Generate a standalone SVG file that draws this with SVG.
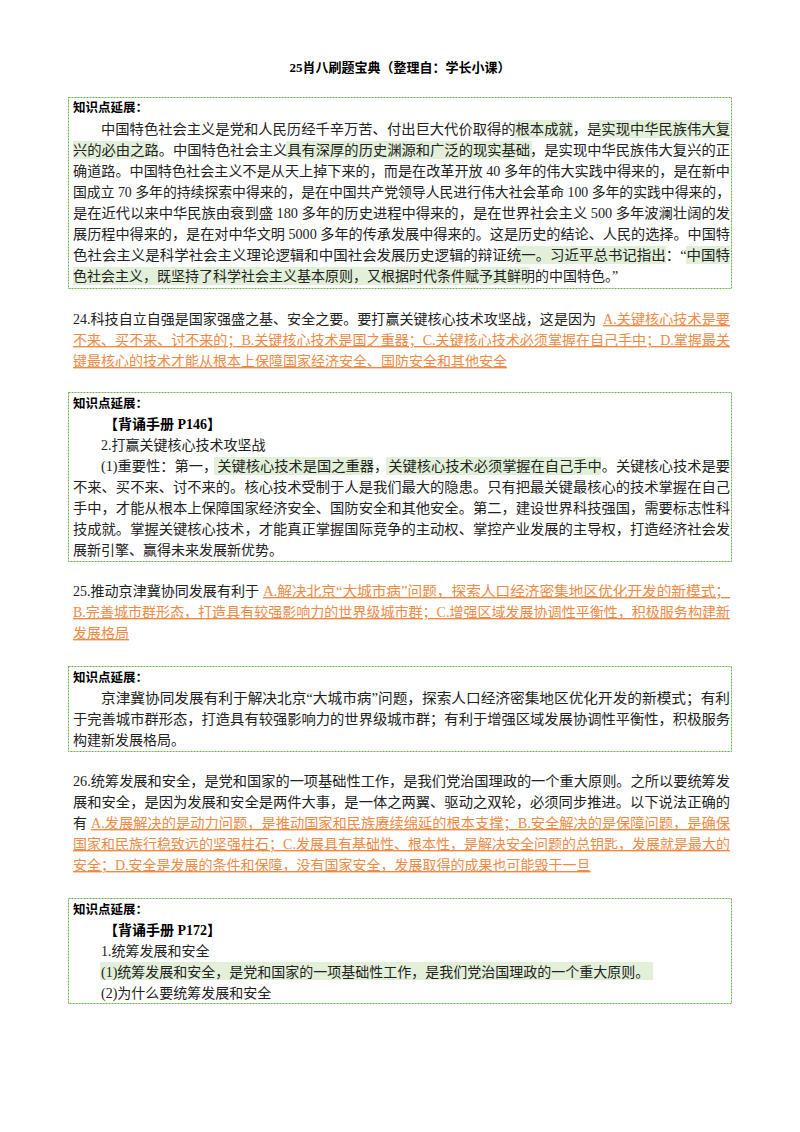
<svg xmlns="http://www.w3.org/2000/svg" width="800" height="1132" viewBox="0 0 800 1132">
<style>
text{font-family:"Liberation Serif","Noto Sans CJK SC",serif;font-size:14px;fill:#222}
.k{font-weight:bold;font-size:12.5px;fill:#000}
.b{font-weight:bold;fill:#000}
.o{fill:#ef8a44;text-decoration:underline}
.box{fill:none;stroke:#6ab04c;stroke-width:1;stroke-dasharray:2 1}
.hl{fill:#e2f0d9}
</style>
<rect width="800" height="1132" fill="#fff"/>
<text x="400" y="72" text-anchor="middle" class="b" style="font-size:13px">25肖八刷题宝典（整理自：学长小课）</text>

<g id="box1">
<rect class="hl" x="514" y="120" width="59" height="18"/>
<rect class="hl" x="599" y="120" width="131" height="18"/>
<rect class="hl" x="73" y="141" width="85" height="18"/>
<rect class="hl" x="286" y="141" width="246" height="18"/>
<rect class="hl" x="516" y="246" width="150" height="18"/>
<rect class="hl" x="686" y="246" width="44" height="18"/>
<rect class="hl" x="73" y="267" width="457" height="18"/>
<rect class="box" x="68.5" y="97.5" width="663" height="191"/>
<text class="k" x="73" y="112">知识点延展：</text>
<text x="101" y="134" textLength="629" lengthAdjust="spacingAndGlyphs">中国特色社会主义是党和人民历经千辛万苦、付出巨大代价取得的根本成就，是实现中华民族伟大复</text>
<text x="73" y="155" textLength="657" lengthAdjust="spacingAndGlyphs">兴的必由之路。中国特色社会主义具有深厚的历史渊源和广泛的现实基础，是实现中华民族伟大复兴的正</text>
<text x="73" y="176" textLength="657" lengthAdjust="spacingAndGlyphs">确道路。中国特色社会主义不是从天上掉下来的，而是在改革开放 40 多年的伟大实践中得来的，是在新中</text>
<text x="73" y="197" textLength="657" lengthAdjust="spacingAndGlyphs">国成立 70 多年的持续探索中得来的，是在中国共产党领导人民进行伟大社会革命 100 多年的实践中得来的，</text>
<text x="73" y="218" textLength="657" lengthAdjust="spacingAndGlyphs">是在近代以来中华民族由衰到盛 180 多年的历史进程中得来的，是在世界社会主义 500 多年波澜壮阔的发</text>
<text x="73" y="239" textLength="657" lengthAdjust="spacingAndGlyphs">展历程中得来的，是在对中华文明 5000 多年的传承发展中得来的。这是历史的结论、人民的选择。中国特</text>
<text x="73" y="260" textLength="657" lengthAdjust="spacingAndGlyphs">色社会主义是科学社会主义理论逻辑和中国社会发展历史逻辑的辩证统一。习近平总书记指出：“中国特</text>
<text x="73" y="281">色社会主义，既坚持了科学社会主义基本原则，又根据时代条件赋予其鲜明的中国特色。”</text>
</g>

<g id="q24">
<text x="73" y="324" textLength="523" lengthAdjust="spacingAndGlyphs">24.科技自立自强是国家强盛之基、安全之要。要打赢关键核心技术攻坚战，这是因为</text>
<text class="o" x="603" y="324" textLength="127" lengthAdjust="spacingAndGlyphs">A.关键核心技术是要</text>
<text class="o" x="73" y="345" textLength="657" lengthAdjust="spacingAndGlyphs">不来、买不来、讨不来的；B.关键核心技术是国之重器；C.关键核心技术必须掌握在自己手中；D.掌握最关</text>
<text class="o" x="73" y="366">键最核心的技术才能从根本上保障国家经济安全、国防安全和其他安全</text>
</g>

<g id="box2">
<rect class="hl" x="214" y="457" width="159" height="18"/>
<rect class="hl" x="386" y="457" width="215" height="18"/>
<rect class="box" x="68.5" y="392.5" width="663" height="169"/>
<text class="k" x="73" y="408">知识点延展：</text>
<text class="b" x="104" y="429">【背诵手册 P146】</text>
<text x="101" y="450">2.打赢关键核心技术攻坚战</text>
<text x="101" y="471" textLength="629" lengthAdjust="spacingAndGlyphs">(1)重要性：第一，关键核心技术是国之重器，关键核心技术必须掌握在自己手中。关键核心技术是要</text>
<text x="73" y="492" textLength="657" lengthAdjust="spacingAndGlyphs">不来、买不来、讨不来的。核心技术受制于人是我们最大的隐患。只有把最关键最核心的技术掌握在自己</text>
<text x="73" y="513" textLength="657" lengthAdjust="spacingAndGlyphs">手中，才能从根本上保障国家经济安全、国防安全和其他安全。第二，建设世界科技强国，需要标志性科</text>
<text x="73" y="534" textLength="657" lengthAdjust="spacingAndGlyphs">技成就。掌握关键核心技术，才能真正掌握国际竞争的主动权、掌控产业发展的主导权，打造经济社会发</text>
<text x="73" y="555">展新引擎、赢得未来发展新优势。</text>
</g>

<g id="q25">
<text x="73" y="596" textLength="186" lengthAdjust="spacingAndGlyphs">25.推动京津冀协同发展有利于</text>
<text class="o" x="263" y="596" textLength="467" lengthAdjust="spacingAndGlyphs">A.解决北京“大城市病”问题，探索人口经济密集地区优化开发的新模式；</text>
<text class="o" x="73" y="617" textLength="657" lengthAdjust="spacingAndGlyphs">B.完善城市群形态，打造具有较强影响力的世界级城市群；C.增强区域发展协调性平衡性，积极服务构建新</text>
<text class="o" x="73" y="638">发展格局</text>
</g>

<g id="box3">
<rect class="box" x="68.5" y="666.5" width="663" height="85"/>
<text class="k" x="73" y="682">知识点延展：</text>
<text x="101" y="703" textLength="629" lengthAdjust="spacingAndGlyphs">京津冀协同发展有利于解决北京“大城市病”问题，探索人口经济密集地区优化开发的新模式；有利</text>
<text x="73" y="724" textLength="657" lengthAdjust="spacingAndGlyphs">于完善城市群形态，打造具有较强影响力的世界级城市群；有利于增强区域发展协调性平衡性，积极服务</text>
<text x="73" y="745">构建新发展格局。</text>
</g>

<g id="q26">
<text x="73" y="786" textLength="657" lengthAdjust="spacingAndGlyphs">26.统筹发展和安全，是党和国家的一项基础性工作，是我们党治国理政的一个重大原则。之所以要统筹发</text>
<text x="73" y="807" textLength="657" lengthAdjust="spacingAndGlyphs">展和安全，是因为发展和安全是两件大事，是一体之两翼、驱动之双轮，必须同步推进。以下说法正确的</text>
<text x="73" y="828">有</text>
<text class="o" x="91" y="828" textLength="639" lengthAdjust="spacingAndGlyphs">A.发展解决的是动力问题，是推动国家和民族赓续绵延的根本支撑；B.安全解决的是保障问题，是确保</text>
<text class="o" x="73" y="849" textLength="657" lengthAdjust="spacingAndGlyphs">国家和民族行稳致远的坚强柱石；C.发展具有基础性、根本性，是解决安全问题的总钥匙，发展就是最大的</text>
<text class="o" x="73" y="870">安全；D.安全是发展的条件和保障，没有国家安全，发展取得的成果也可能毁于一旦</text>
</g>

<g id="box4">
<rect class="hl" x="100" y="962" width="553" height="18"/>
<rect class="box" x="68.5" y="898.5" width="663" height="105"/>
<text class="k" x="73" y="914">知识点延展：</text>
<text class="b" x="104" y="935">【背诵手册 P172】</text>
<text x="101" y="956">1.统筹发展和安全</text>
<text x="101" y="977">(1)统筹发展和安全，是党和国家的一项基础性工作，是我们党治国理政的一个重大原则。</text>
<text x="101" y="998">(2)为什么要统筹发展和安全</text>
</g>
</svg>
